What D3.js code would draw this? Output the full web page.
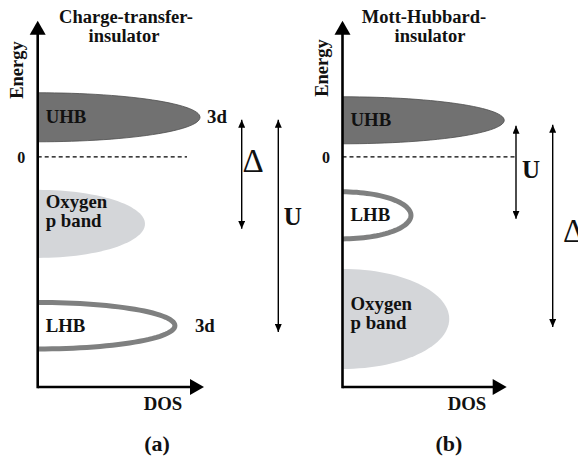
<!DOCTYPE html>
<html>
<head>
<meta charset="utf-8">
<script src="https://cdn.jsdelivr.net/npm/d3@7"></script>
<style>
  body { margin: 0; background: #fff; }
  text { font-family: "Liberation Serif", "Times New Roman", serif; fill: #111; }
</style>
</head>
<body>
<svg id="chart" width="578" height="463"></svg>
<script>
// ---- data (energies in arbitrary units, 0 = dashed line; DOS 0..1 = axis length)
var titlesA = ["Charge-transfer-", "insulator"]
var titlesB = ["Mott-Hubbard-", "insulator"]

var bandNamesA = ["UHB", "Oxygen p band", "LHB"]
var bandTopA = [6.4, -3.3, -14.55]
var bandBottomA = [1.5, -10.1, -19.2]
var bandDosA = [0.976, 0.645, 0.825]
var bandTagA = ["3d", "", "3d"]

var bandNamesB = ["UHB", "LHB", "Oxygen p band"]
var bandTopB = [6.0, -3.5, -11.2]
var bandBottomB = [1.3, -8.2, -21.2]
var bandDosB = [0.985, 0.417, 0.65]
var bandTagB = ["", "", ""]

var gapNamesA = ["Δ", "U"]
var gapTopA = [3.7, 3.7]
var gapBottomA = [-7.2, -17.5]

var gapNamesB = ["U", "Δ"]
var gapTopB = [3.1, 3.2]
var gapBottomB = [-6.2, -17.0]

var energyDomain = [-23, 13.6]

// ---- drawing
var svg = d3.select("#chart")
var y = d3.scaleLinear().domain(energyDomain).range([387, 20.7])

var defs = svg.append("defs")
defs.append("marker").attr("id", "head")
  .attr("viewBox", "0 0 10 10").attr("refX", 10).attr("refY", 5)
  .attr("markerWidth", 8).attr("markerHeight", 7).attr("markerUnits", "userSpaceOnUse")
  .attr("orient", "auto-start-reverse")
  .attr("preserveAspectRatio", "none")
  .append("path").attr("d", "M0,0 L10,5 L0,10 Z").attr("fill", "#000")

function bandStyle(name) {
  if (name == "UHB") return {fill: "#717171", stroke: "#4d4d4d", sw: 0.8}
  if (name == "LHB") return {fill: "none", stroke: "#7f8080", sw: 5}
  return {fill: "#d4d6d9", stroke: "none", sw: 0}
}

function halfEllipse(x0, yt, yb, rx) {
  var cy = (yt + yb) / 2, ry = (yb - yt) / 2
  var pts = d3.range(0, 181, 3).map(a => {
    var t = (a - 90) * Math.PI / 180
    return [x0 + rx * Math.cos(t), cy + ry * Math.sin(t)]
  })
  return d3.line()(pts)
}

function label(g, x, y, size, s) {
  return g.append("text").attr("x", x).attr("y", y)
    .style("font-size", size + "px").style("font-weight", "bold").text(s)
}

function drawPanel(p) {
  var g = svg.append("g")
  var x = d3.scaleLinear().domain([0, 1]).range([p.x0, p.x1])

  // bands
  p.names.forEach((name, i) => {
    var st = bandStyle(name)
    var yt = y(p.top[i]), yb = y(p.bottom[i])
    g.append("path")
      .attr("d", halfEllipse(x(0), yt, yb, x(p.dos[i]) - x(0)) + (st.fill == "none" ? "" : "Z"))
      .attr("fill", st.fill).attr("stroke", st.stroke).attr("stroke-width", st.sw)
    var cy = (yt + yb) / 2
    var parts = name == "Oxygen p band" ? ["Oxygen", "p band"] : [name]
    parts.forEach((s, k) => {
      label(g, x(0) + 8, parts.length == 1 ? cy + 6 : cy - 10 + k * 19 + p.oxShift, 18.8, s)
    })
    if (p.tags[i]) {
      label(g, x(p.dos[i]) + (name == "UHB" ? 7 : 20), cy + 6, 18.8, p.tags[i])
    }
  })

  // zero line
  g.append("line").attr("x1", x(0)).attr("x2", p.zeroEnd).attr("y1", y(0)).attr("y2", y(0))
    .attr("stroke", "#000").attr("stroke-width", 1.2).attr("stroke-dasharray", "4,3")
  label(g, x(0) - 16.5, y(0) + 6, 16, "0").attr("text-anchor", "middle")

  // axes
  var ax = x(0), ay = y(energyDomain[0]), top = y(energyDomain[1])
  g.append("line").attr("x1", ax).attr("x2", ax).attr("y1", ay + 1.3).attr("y2", top + 12)
    .attr("stroke", "#000").attr("stroke-width", 2.6)
  g.append("path").attr("d", d3.line()([[ax - 8, top + 14], [ax, top], [ax + 8, top + 14]]) + "Z")
    .attr("fill", "#000")
  g.append("line").attr("x1", ax).attr("x2", x(1) - 12).attr("y1", ay).attr("y2", ay)
    .attr("stroke", "#000").attr("stroke-width", 2.6)
  g.append("path").attr("d", d3.line()([[x(1) - 14, ay - 8], [x(1), ay], [x(1) - 14, ay + 8]]) + "Z")
    .attr("fill", "#000")

  label(g, 0, 0, 18.5, "Energy").attr("x", null).attr("y", null)
    .attr("transform", `translate(${ax - 15},${p.energyY}) rotate(-90)`)
    .attr("text-anchor", "middle")
  label(g, p.dosX, 410, 18.8, "DOS").attr("text-anchor", "middle")
  label(g, p.labelX, 451, 22, p.label).attr("text-anchor", "middle")

  p.titles.forEach((s, k) => {
    label(g, p.titleX[k], 23 + k * 19, 18.5, s).attr("text-anchor", "middle")
  })

  // gap arrows
  p.gaps.forEach((name, i) => {
    var gx = p.gapX[i]
    g.append("line").attr("x1", gx).attr("x2", gx)
      .attr("y1", y(p.gapTop[i])).attr("y2", y(p.gapBottom[i]))
      .attr("stroke", "#000").attr("stroke-width", 1.4)
      .attr("marker-start", "url(#head)").attr("marker-end", "url(#head)")
    var t = g.append("text").attr("x", p.gapTextX[i]).attr("y", p.gapTextY[i])
      .attr("text-anchor", "middle").text(name)
    if (name == "Δ") t.style("font-size", "33px").style("font-weight", "normal")
    else t.style("font-size", "25px").style("font-weight", "bold")
  })
}

drawPanel({
  x0: 37.7, x1: 204, names: bandNamesA, top: bandTopA, bottom: bandBottomA, dos: bandDosA,
  tags: bandTagA, oxShift: -6, zeroEnd: 187, energyY: 70, dosX: 163, labelX: 157, label: "(a)",
  titles: titlesA, titleX: [126, 124],
  gaps: gapNamesA, gapTop: gapTopA, gapBottom: gapBottomA, gapX: [241.7, 278.3],
  gapTextX: [253, 292.7], gapTextY: [172, 225]
})
drawPanel({
  x0: 342.5, x1: 506.7, names: bandNamesB, top: bandTopB, bottom: bandBottomB, dos: bandDosB,
  tags: bandTagB, oxShift: 1, zeroEnd: 515, energyY: 68, dosX: 467, labelX: 449, label: "(b)",
  titles: titlesB, titleX: [424, 430],
  gaps: gapNamesB, gapTop: gapTopB, gapBottom: gapBottomB, gapX: [516, 552.7],
  gapTextX: [531, 573.5], gapTextY: [178, 242]
})
</script>
</body>
</html>
